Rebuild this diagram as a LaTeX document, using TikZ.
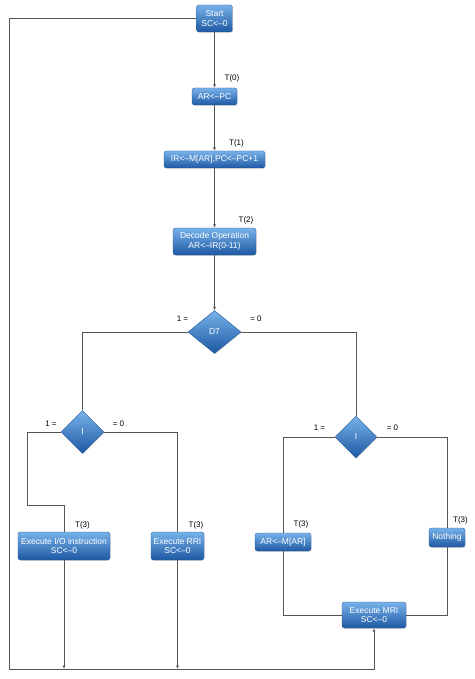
\documentclass[tikz,border=0pt]{standalone}
\usepackage{fontspec}
\setmainfont{Liberation Sans}
\usetikzlibrary{shapes.geometric,arrows.meta,shadows}
\definecolor{bxtop}{HTML}{78B2EA}
\definecolor{bxbot}{HTML}{1D58A3}
\definecolor{bxline}{HTML}{2A5C9A}
\definecolor{ln}{HTML}{555555}
\tikzset{
  box/.style={rectangle, rounded corners=2.5pt, top color=bxtop, bottom color=bxbot,
    draw=bxline, line width=0.4pt, text=white, font=\fontsize{8.5}{9.5}\selectfont,
    align=center, inner sep=0pt,
    drop shadow={opacity=0.25, shadow xshift=0.6pt, shadow yshift=-0.8pt}},
  dia/.style={diamond, top color=bxtop, bottom color=bxbot, draw=bxline,
    line width=0.4pt, text=white, font=\fontsize{8.5}{9.5}\selectfont, inner sep=0pt,
    drop shadow={opacity=0.25, shadow xshift=0.6pt, shadow yshift=-0.8pt}},
  wire/.style={draw=ln, line width=0.8pt},
  arr/.style={wire, -{Latex[length=3.5pt,width=3pt]}},
  lbl/.style={font=\fontsize{8}{9}\selectfont, inner sep=0pt, text=black}
}
\begin{document}
\begin{tikzpicture}[x=1pt,y=-1pt]
\useasboundingbox[fill=white] (0,0) rectangle (474,679);
% boxes
\node[box, minimum width=36pt, minimum height=27pt] (start) at (214.5,18.5) {Start\\SC<–0};
\node[box, minimum width=45pt, minimum height=17pt] (arpc) at (214.5,96.5) {AR<–PC};
\node[box, minimum width=101pt, minimum height=17pt] (irbox) at (214.5,159.5) {IR<–M[AR],PC<–PC+1};
\node[box, minimum width=83pt, minimum height=27pt] (dec) at (214.5,241.5) {Decode Operation\\AR<–IR(0-11)};
\node[dia, minimum width=53pt, minimum height=43pt] (d7) at (214.5,332) {D7};
\node[dia, minimum width=43pt, minimum height=43pt] (idl) at (82.5,432) {I};
\node[dia, minimum width=42pt, minimum height=42pt] (idr) at (356,437) {I};
\node[box, minimum width=92pt, minimum height=28pt] (io) at (64,546) {Execute I/O instruction\\SC<–0};
\node[box, minimum width=53pt, minimum height=28pt] (rri) at (177.5,546) {Execute RRI\\SC<–0};
\node[box, minimum width=56pt, minimum height=18pt] (armar) at (283,542) {AR<–M[AR]};
\node[box, minimum width=36pt, minimum height=19pt] (noth) at (447,537.5) {Nothing};
\node[box, minimum width=64pt, minimum height=26pt] (mri) at (374,615) {Execute MRI\\SC<–0};
% labels
\node[lbl] (t0) at (232,78) {T(0)};
\node[lbl] (t1) at (236.5,143) {T(1)};
\node[lbl] (t2) at (246,220) {T(2)};
\node[lbl] (t3a) at (82.5,525) {T(3)};
\node[lbl] (t3b) at (196,525) {T(3)};
\node[lbl] (t3c) at (301,524) {T(3)};
\node[lbl] (t3d) at (460.5,520) {T(3)};
\node[lbl] (d7a) at (182.5,319) {1 =};
\node[lbl] (d7b) at (256,319) {= 0};
\node[lbl] (ila) at (51,424) {1 =};
\node[lbl] (ilb) at (118.5,424) {= 0};
\node[lbl] (ira) at (319.5,428) {1 =};
\node[lbl] (irb) at (392.5,428) {= 0};
% coordinates
\coordinate (bl) at (9,669);
\coordinate (br) at (374,669);
\coordinate (k1) at (27,505);
% connectors
\draw[arr] (start.south) -- (arpc.north);
\draw[arr] (arpc.south) -- (irbox.north);
\draw[arr] (irbox.south) -- (dec.north);
\draw[arr] (dec.south) -- (d7.north);
\draw[wire] (d7.west) -| (idl.north);
\draw[wire] (d7.east) -| (idr.north);
\draw[wire] (idl.west) -| (k1) -| (io.north);
\draw[wire] (idl.east) -| (rri.north);
\draw[wire] (idr.west) -| (armar.north);
\draw[wire] (idr.east) -| (noth.north);
\draw[wire] (armar.south) |- (mri.west);
\draw[wire] (noth.south) |- (mri.east);
\draw[arr] (io.south) -- (io.south |- bl);
\draw[arr] (rri.south) -- (rri.south |- bl);
\draw[arr] (start.west) -| (bl) -- (br) -- (mri.south);
\end{tikzpicture}
\end{document}
